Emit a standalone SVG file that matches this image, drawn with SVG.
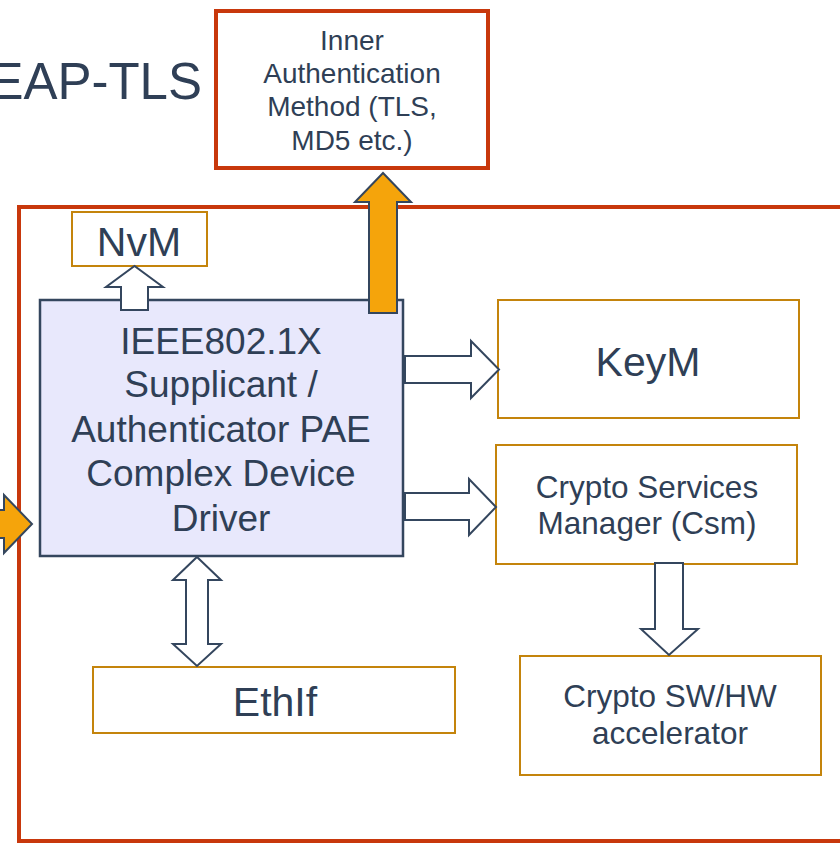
<svg xmlns="http://www.w3.org/2000/svg" width="840" height="844" viewBox="0 0 840 844">
  <style>
    text { font-family: "Liberation Sans", Arial, sans-serif; fill: #2f3f56; text-anchor: middle; }
    .frame { fill: none; stroke: #c8380c; stroke-width: 4; }
    .module { fill: #ffffff; stroke: #c4840c; stroke-width: 2; }
    .cdd { fill: #e8e8fc; stroke: #34465e; stroke-width: 2.5; }
    .hollow { fill: #ffffff; stroke: #34465e; stroke-width: 2; stroke-linejoin: miter; }
    .solid { fill: #f5a40b; stroke: #34465e; stroke-width: 2; stroke-linejoin: miter; }
  </style>

  <rect width="840" height="844" fill="#ffffff"/>

  <!-- title -->
  <text x="202" y="99" font-size="51" style="text-anchor:end">EAP-TLS</text>

  <!-- outer system boundary -->
  <g id="system">
    <rect class="frame" x="19" y="207" width="840" height="634"/>
  </g>

  <g id="inner-auth">
    <rect class="frame" x="216" y="11" width="272" height="157"/>
    <text x="352" y="50" font-size="28">Inner</text>
    <text x="352" y="83" font-size="28">Authentication</text>
    <text x="352" y="116" font-size="28">Method (TLS,</text>
    <text x="352" y="150" font-size="28">MD5 etc.)</text>
  </g>

  <g id="nvm">
    <rect class="module" x="72" y="212" width="135" height="54"/>
    <text x="139" y="256" font-size="41">NvM</text>
  </g>

  <g id="cdd">
    <rect class="cdd" x="40" y="300" width="363" height="256"/>
    <text x="221" y="354" font-size="37">IEEE802.1X</text>
    <text x="221" y="397" font-size="37">Supplicant /</text>
    <text x="221" y="442" font-size="37">Authenticator PAE</text>
    <text x="221" y="486" font-size="37">Complex Device</text>
    <text x="221" y="531" font-size="37">Driver</text>
  </g>

  <g id="keym">
    <rect class="module" x="498" y="300" width="301" height="118"/>
    <text x="648" y="376" font-size="41">KeyM</text>
  </g>

  <g id="csm">
    <rect class="module" x="496" y="445" width="301" height="119"/>
    <text x="647" y="498" font-size="31.5">Crypto Services</text>
    <text x="647" y="534" font-size="31.5">Manager (Csm)</text>
  </g>

  <g id="ethif">
    <rect class="module" x="93" y="667" width="362" height="66"/>
    <text x="275" y="716" font-size="41">EthIf</text>
  </g>

  <g id="crypto-driver">
    <rect class="module" x="520" y="656" width="301" height="119"/>
    <text x="670" y="707" font-size="31.5">Crypto SW/HW</text>
    <text x="670" y="744" font-size="31.5">accelerator</text>
  </g>

  <!-- block arrows between modules -->
  <g id="connectors">
    <!-- CDD -> NvM -->
    <path class="hollow" d="M121,310 V287 H106 L134.5,266 L163,287 H148 V310 Z"/>
    <!-- CDD -> KeyM -->
    <path class="hollow" d="M405,356 H471 V341 L499,369.5 L471,398 V383 H405 Z"/>
    <!-- CDD -> Csm -->
    <path class="hollow" d="M405,493 H469 V479 L496,507 L469,535 V520 H405 Z"/>
    <!-- CDD <-> EthIf -->
    <path class="hollow" d="M197,557 L221,580 H208 V644 H221 L197,666 L173,644 H186 V580 H173 Z"/>
    <!-- Csm -> accelerator -->
    <path class="hollow" d="M655,563 H683 V629 H698 L669,655 L641,629 H655 Z"/>
    <!-- CDD -> inner authentication method -->
    <path class="solid" d="M369,313 V202 H355 L383,173 L411,202 H397 V313 Z"/>
    <!-- incoming traffic -->
    <path class="solid" d="M-10,510 H4 V495 L32,524 L4,553 V538 H-10 Z"/>
  </g>
</svg>
